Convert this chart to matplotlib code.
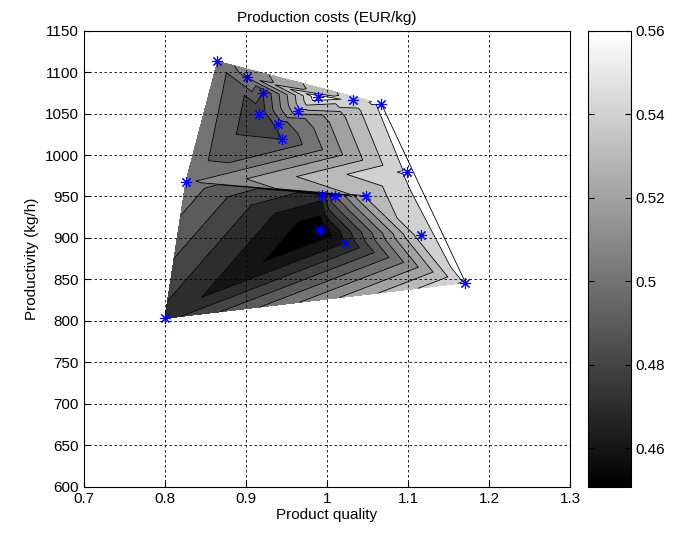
import numpy as np
import matplotlib.pyplot as plt
import matplotlib.tri as mtri
from matplotlib import colors, cm

plt.rcParams['font.family'] = ['Liberation Sans', 'DejaVu Sans']

# measured points (product quality, productivity) and estimated cost
quality = np.array([0.800, 0.826, 0.865, 0.902, 0.921, 0.916, 0.940, 0.945, 0.964, 0.989,
                    1.032, 1.067, 1.099, 0.994, 1.010, 1.048, 0.991, 1.022, 1.116, 1.171])
productivity = np.array([803, 968, 1113, 1094, 1075, 1050, 1038, 1019, 1053, 1070,
                         1066, 1062, 980, 952, 951, 951, 910, 894, 903, 846])
cost = np.array([0.476, 0.508, 0.505, 0.512, 0.490, 0.482, 0.495, 0.490, 0.527, 0.558,
                 0.546, 0.553, 0.552, 0.474, 0.500, 0.532, 0.4508, 0.470, 0.546, 0.552])

levels = [0.44, 0.46, 0.47, 0.48, 0.49, 0.50, 0.51, 0.52, 0.53, 0.54, 0.55, 0.57]
cbar_ticks = [0.46, 0.48, 0.50, 0.52, 0.54, 0.56]
cbar_labels = ['0.46', '0.48', '0.5', '0.52', '0.54', '0.56']
x_ticks = [0.7, 0.8, 0.9, 1.0, 1.1, 1.2, 1.3]
x_labels = ['0.7', '0.8', '0.9', '1', '1.1', '1.2', '1.3']
y_ticks = list(range(600, 1151, 50))

fig = plt.figure(figsize=(6.84, 5.38), dpi=100)
ax = fig.add_axes([0.1224, 0.0954, 0.711, 0.8476])
cax = fig.add_axes([0.8592, 0.0954, 0.0629, 0.8476])

norm = colors.Normalize(vmin=cost.min(), vmax=0.56)
cmap = plt.get_cmap('gray')
# matlab style: each band painted with the colour of its lower level, top band white
fill_cols = [cmap(norm(max(l, cost.min()))) for l in levels[:-2]] + ['white']

tri = mtri.Triangulation(quality, productivity)
ax.tricontourf(tri, cost, levels=levels, colors=fill_cols, zorder=1)
ax.tricontour(tri, cost, levels=levels[1:-1], colors='k', linewidths=0.6, zorder=2)

# outline of the data edge where the top (white) band touches it
edge_count = {}
for t in tri.triangles:
    for a, b in ((t[0], t[1]), (t[1], t[2]), (t[2], t[0])):
        key = (min(a, b), max(a, b))
        edge_count[key] = edge_count.get(key, 0) + 1
for (i, j), n in edge_count.items():
    if n == 1 and cost[i] >= 0.55 and cost[j] >= 0.55:
        ax.plot(quality[[i, j]], productivity[[i, j]], color='k', lw=0.6, zorder=2)

ax.plot(quality, productivity, ls='none', marker=(8, 2, 0), ms=8,
        mec='b', mew=0.8, zorder=4)

ax.set_xlim(0.7, 1.3)
ax.set_ylim(600, 1150)
ax.set_xticks(x_ticks)
ax.set_xticklabels(x_labels)
ax.set_yticks(y_ticks)
ax.set_axisbelow(False)
ax.grid(True, color='k', ls=(0, (3, 3)), lw=0.6)
ax.tick_params(direction='in', labelsize=11, length=4)
for s in ax.spines.values():
    s.set_linewidth(0.8)
ax.set_xlabel('Product quality', fontsize=11, labelpad=2)
ax.set_ylabel('Productivity (kg/h)', fontsize=11, labelpad=4)
ax.set_title('Production costs (EUR/kg)', fontsize=11, pad=6)

cb = fig.colorbar(cm.ScalarMappable(norm=norm, cmap=cmap), cax=cax, ticks=cbar_ticks)
cb.ax.set_yticklabels(cbar_labels)
cb.ax.tick_params(direction='in', labelsize=11, length=4, left=True)
cb.outline.set_linewidth(0.8)

fig.savefig('out.png', dpi=100)
